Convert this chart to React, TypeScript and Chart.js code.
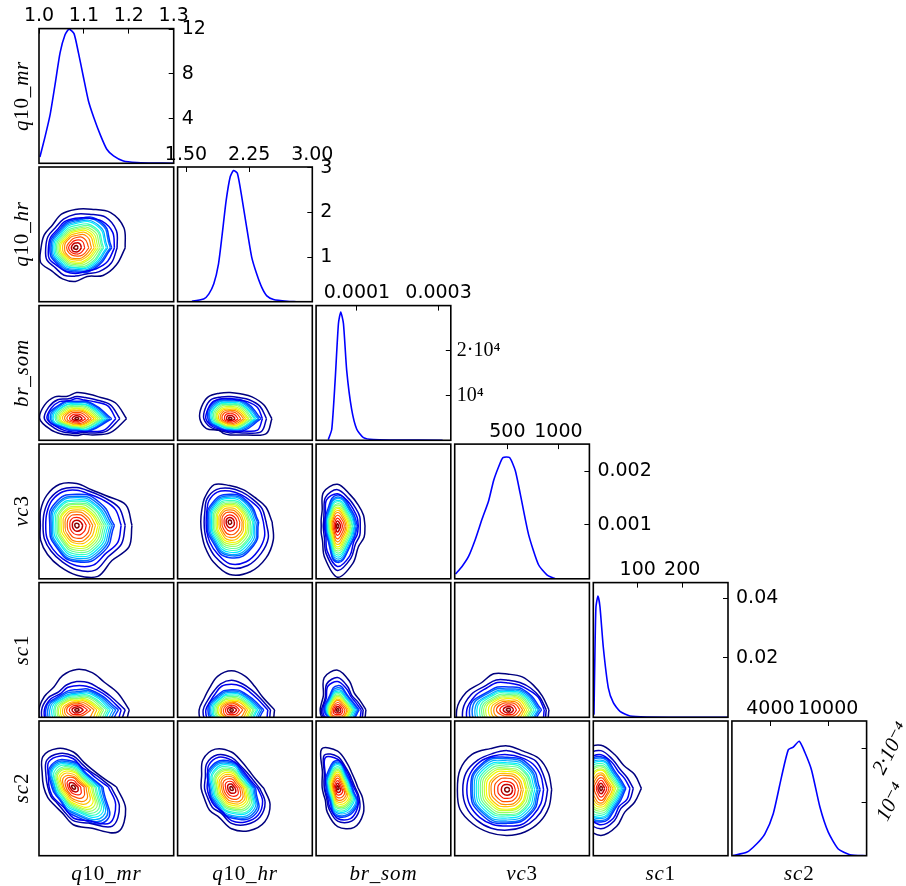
import React, { useEffect, useRef } from "react";
import { Chart, registerables } from "chart.js";

Chart.register(...registerables);

const paramNames = ["q10_mr", "q10_hr", "br_som", "vc3", "sc1", "sc2"];
const paramMin = [1.0, 1.4, 0, -17, 0, 0];
const paramMax = [1.3, 3.0, 0.00033, 1304, 303, 14000];
const densityMax = [12.05, 3.02, 30000, 0.0025, 0.0452, 0.000252];

const xTickValues = [[1.0, 1.1, 1.2, 1.3], [1.5, 2.25, 3.0], [0.0001, 0.0003], [500, 1000], [100, 200], [4000, 10000]];
const xTickLabels = [["1.0", "1.1", "1.2", "1.3"], ["1.50", "2.25", "3.00"], ["0.0001", "0.0003"], ["500", "1000"], ["100", "200"], ["4000", "10000"]];
const yTickValues = [[4, 8, 12], [1, 2, 3], [10000, 20000], [0.001, 0.002], [0.02, 0.04], [0.0001, 0.0002]];
const yTickLabels = [["4", "8", "12"], ["1", "2", "3"], ["10⁴", "2·10⁴"], ["0.001", "0.002"], ["0.02", "0.04"], ["10⁻⁴", "2·10⁻⁴"]];

const mrX = [1.002, 1.013, 1.025, 1.036, 1.047, 1.058, 1.067, 1.078, 1.088, 1.099, 1.11, 1.122, 1.137, 1.151, 1.166, 1.188, 1.218, 1.248, 1.3];
const mrY = [0.57, 2.3, 4.4, 7.1, 9.9, 11.5, 12, 11.6, 9.85, 7.7, 5.6, 4.1, 2.5, 1.26, 0.66, 0.2, 0.06, 0.03, 0];
const hrX = [1.57, 1.71, 1.77, 1.83, 1.886, 1.926, 1.977, 2.025, 2.064, 2.11, 2.163, 2.22, 2.28, 2.34, 2.4, 2.46, 2.54, 2.7, 2.81];
const hrY = [0.01, 0.06, 0.17, 0.4, 0.85, 1.45, 2.27, 2.8, 2.94, 2.88, 2.34, 1.67, 1, 0.62, 0.32, 0.13, 0.05, 0.01, 0];
const brX = [0.00003, 0.0000384, 0.0000466, 0.0000547, 0.0000604, 0.000067, 0.000075, 0.000087, 0.0000996, 0.000116, 0.00014, 0.00019, 0.00031];
const brY = [150, 2460, 13280, 25970, 28580, 25970, 15520, 6940, 2460, 600, 150, 70, 0];
const vcX = [-10, 55, 120, 185, 250, 316, 365, 414, 456, 521, 577, 626, 707, 805, 887, 968, 1278];
const vcY = [0.0000875, 0.00023, 0.00042, 0.00073, 0.0011, 0.00145, 0.001825, 0.00208, 0.00225, 0.00225, 0.00201, 0.001575, 0.000825, 0.00026, 0.000075, 0.000006, 0];
const sc1X = [1.5, 3.75, 6, 10.5, 15, 22.5, 33.75, 45, 60, 82.5, 120, 217, 303];
const sc1Y = [0.0009, 0.0224, 0.0371, 0.0407, 0.0371, 0.0235, 0.0099, 0.0049, 0.002, 0.00045, 0.0001, 0, 0];
const sc2X = [139, 1524, 2564, 3430, 4297, 5163, 5856, 6376, 7000, 7590, 8281, 9148, 10014, 11054, 12267, 14000];
const sc2Y = [0.0000006, 0.0000063, 0.000022, 0.000041, 0.0000785, 0.000148, 0.000198, 0.000203, 0.000214, 0.000193, 0.00016, 0.000091, 0.000044, 0.0000126, 0.0000019, 0];

const densityX = [mrX, hrX, brX, vcX, sc1X, sc2X];
const densityY = [mrY, hrY, brY, vcY, sc1Y, sc2Y];

const levelColors = ["#00007f", "#0000b8", "#0000f1", "#0034ff", "#0070ff", "#00acff", "#00e8ff", "#33ffc3", "#63ff94", "#94ff63", "#c3ff33", "#f4f802", "#ffc200", "#ff8900", "#ff5100", "#ff1a00", "#c40000", "#7f0000"];

// Contour rings: peak position and, per level, the distance to the line in evenly spaced directions (percent of panel).
const mrHrCenter = [27, 40];
const mrHrRadii = [
  [37,39,37,31,28.5,27,24,25,25.5,28,24.5,25,25,23,29,33],
  [31,33,32,27,25,23,21,22,22,23,21,22,21,21,25,29],
  [29,30,28,24,22,21,19,20,20,21,19,19,19,19,22,26],
  [27,27,21,18,19,18,18,21],[26,26,20,17,18,17,17,20],[24,24,19,16,17,16,16,19],[23,23,18,15,16,15,15,18],
  [21,21,16.5,14,15,14,14.5,17],[20,20,15,13,14,13,13.5,16],[18.5,18.5,14,12,13,12,12.5,14.5],[17,17,13,11,12,11,11.5,13],
  [15.5,15.5,12,10,11,10,10.5,12],[14,14,10.5,9,9.5,9,9,10.5],[12,12,9,8,8,8,8,9],[10,9.5,7.5,6,6.5,6,6,7.5],
  [7,7,5.5,4.5,5,4.5,4.5,5.5],[4.5,4.5,3.5,3,3,3,3,3.5],[2,2,1.5,1,1.5,1,1,1.5],
];
const mrBrCenter = [28, 16];
const mrBrRadii = [
  [37,31,23,20,19.5,18,23,26,27.5,21,16,13,12.5,12.5,17,27],
  [32,27,20,17,16.5,16,20,22.5,24,18,14,11.5,11,11,15,24],
  [29,25,18,15,15,14.5,18,20.5,22,16,12.5,10.5,10,10,13.5,22],
  [26,16,13,16,21,11,9,13],[24.5,15.5,12.5,15.5,19.5,10.5,8.5,12.5],[23,14.5,12,14.5,18.5,10,8,12],[21.5,13.5,11,13.5,17.5,9.5,7.5,11],
  [20,13,10.5,13,16,8.5,7,10.5],[19,12,9.5,12,15,8,6.5,9.5],[17.5,11,9,11,14,7.5,6,9],[16,10,8,10,13,7,6,8],
  [14.5,9,7.5,9,12,6.5,5,7.5],[13,8,6.5,8,10.5,5.5,4.5,6.5],[11,7,5.8,7,9,5,4,5.8],[9,5.7,4.7,5.7,7.3,4,3.3,4.7],
  [6.7,4.2,3.4,4.2,5.3,3,2.4,3.4],[4.2,2.6,2.2,2.6,3.4,1.8,1.5,2.2],[1.8,1.1,0.9,1.1,1.4,0.8,0.6,0.9],
];
const hrBrCenter = [39, 16];
const hrBrRadii = [
  [31,27,23,20,19.5,20.5,23,23,22.5,19,12,12,12,13,17,29],
  [27,24,20,17,16.5,17.5,20,20,19.5,16,12,10.5,10.5,11,15,25],
  [24,22,18,15,15,16,18,18,18,14.5,11,9.5,9.5,10,13,22],
  [23,17,14.5,17,16.5,10.5,9,13],[21.5,16,13.5,16,15.5,10,8.5,12],[20.5,15,13,15,15,9.5,8,11],[19,14,12,14,14,8.5,7.5,10.5],
  [18,13.5,11,13.5,13,8,7,10],[16.5,12.5,10.5,12.5,12,7.5,6.5,9],[15.5,11.5,10,11.5,11,7,6,8.5],[14,10.5,9,10.5,10,6.5,5.5,8],
  [13,9.5,8,9.5,9.5,6,5,7],[11.5,8.5,7,8.5,8.5,5,4.5,6.5],[10,7.4,6.2,7.4,7.2,4.5,3.8,5.5],[8,6,5,6,6,3.6,3.1,4.4],
  [5.9,4.4,3.7,4.4,4.3,2.7,2.3,3.2],[3.7,2.8,2.3,2.8,2.7,1.7,1.4,2],[1.6,1.2,1,1.2,1.1,0.7,0.6,0.9],
];
const mrVcCenter = [28, 39.7];
const mrVcRadii = [
  [41,39.5,31,28.6,31,33,31.5,29,27,29,30.6,33,37,41,37,42],
  [36,34,29,27,28,29,28,26,25,26,27,29,33,36,33,36],
  [33,31,27,25,26,27,26,24,23,24,25,27,30,32,30,33],
  [28,24,23,23,20,22,27,28],[26.5,22.5,21.5,21.5,19,21,26,26.5],[25,21,20.5,20.5,18,20,24.5,25],[23.5,20,19,19,17,18.5,23,23.5],
  [22,18.5,18,18,15.5,17.5,21.5,22],[20.5,17.5,16.5,16.5,14.5,16,20,20.5],[19,16,15.5,15.5,13.5,15,18.5,19],[17.5,14.5,14,14,12.5,14,17,17.5],
  [16,13.5,13,13,11.5,12.5,15.5,16],[14,12,11.5,11.5,10,11,13.5,14],[12,10,10,10,8.6,9.6,12,12],[10,8.3,8,8,7,7.8,9.6,10],
  [7.2,6,5.9,5.9,5.1,5.7,7,7.2],[4.5,3.8,3.7,3.7,3.2,3.6,4.4,4.5],[1.9,1.6,1.6,1.6,1.4,1.5,1.9,1.9],
];
const hrVcCenter = [38.7, 42.2];
const hrVcRadii = [
  [31.5,29,26,26,27,30,26,22.5,21.5,22.5,26,32,39,40,38,35],
  [27,26,24,24,25,26,24,20,19,20,23,28,34,35,33,31],
  [25,24,22,22,23,24,22,18.5,17.5,18.5,21,25,31,32,30,28],
  [21.5,20,20.5,19,16.5,19,26.5,25],[20.5,19,19.5,18,15.5,18,25,24],[19,18,18.5,17,14.5,17,24,22.5],[18,16.5,17.5,16,13.5,16,22.5,21],
  [17,15.5,16,15,13,15,21,19.5],[15.5,14.5,15,14,12,14,19.5,18.5],[14.5,13.5,14,13,11,13,18,17],[13.5,12.5,13,12,10,12,16.5,15.5],
  [12,11.5,12,11,9,11,15,14.5],[10.5,10,10.5,9.5,8,9.5,13.5,12.5],[9.3,8.6,9,8.3,7,8.3,11.5,11],[7.5,7,7.3,6.8,5.7,6.8,9.4,8.8],
  [5.5,5.1,5.3,4.9,4.2,4.9,6.8,6.5],[3.5,3.2,3.4,3.1,2.6,3.1,4.3,4.1],[1.5,1.4,1.4,1.3,1.1,1.3,1.8,1.7],
];
const brVcCenter = [15.8, 39.2];
const brVcRadii = [
  [20.5,21,22,25,31,27,16,13,12,13,15.6,25,38,30,22,21.5],
  [17,18,19,22,27,23,14,11,10.5,11,13.5,22,33,26,19,18],
  [15.5,16,17,20,24,21,12.5,10,9.5,10,12,20,30,24,17,16],
  [15,15.5,23,12,9,11,27,16],[14,14.5,21.5,11,8.4,10.5,26,15.5],[13,14,20.5,10.5,8,10,24.5,14.5],[12.5,13,19,10,7.4,9.3,23,13.5],
  [11.5,12,18,9.3,7,8.7,21.5,13],[11,11.3,16.5,8.6,6.5,8,20,12],[10,10.5,15.5,8,6,7.5,18.5,11],[9.2,9.7,14,7.4,5.5,6.9,17,10],
  [8.4,8.8,13,6.7,5,6.3,15.5,9.2],[7.4,7.8,11.5,6,4.4,5.6,13.7,8.1],[6.4,6.7,10,5.1,3.8,4.8,11.8,7],[5.2,5.5,8,4.2,3.1,3.9,9.6,5.7],
  [3.8,4,5.9,3,2.3,2.9,7,4.2],[2.4,2.5,3.7,1.9,1.4,1.8,4.4,2.6],[1,1,1.6,0.8,0.6,0.8,1.9,1.1],
];
const mrSc1Center = [28, 5.5];
const mrSc1Radii = [
  [39,33,29,30,30,27.5,24,26,28,28,24,20,16,20,30,37],
  [36,27,23,22,21,20,19,23,26,26,22,18,14,18,28,33],
  [33,25,21,19,18,18,17,21,24,24,20,16,13,16,26,31],
  [31,19,15,16,23,20,12,26],[29,18,13.5,15,21.5,19,11,24],[27,17,12.5,14,20,18,10,23],[25,16,11.5,13,18.5,16,10,21],
  [23.5,14.5,10.5,12.5,17,15,9,20],[22,13.5,9.5,11.5,16,14,8.5,18.5],[20,12.5,8.5,10.5,14.5,13,8,17],[18.5,11,8,9.5,13.5,12,7.5,16],
  [17,10,7,9,12,11,7,14.5],[15,9,6,7.5,10.5,9.5,6.5,13],[13,7.5,5.5,6.5,9,8,6,10.5],[10.5,6,4.5,5.5,7.5,6,4.5,6],
  [8,4.5,3.4,4,5.5,4.5,3.4,4.5],[5,2.8,2.2,2.5,3.5,2.8,2.2,2.8],[2,1.2,0.9,1,1.4,1.2,0.9,1.2],
];
const hrSc1Center = [40, 5.5];
const hrSc1Radii = [
  [32,25,24.5,27,29,27,23,22,24,24,21,18,15,18,26,32],
  [29,23,21,21,22,21,19,19,21,21,19,16,14,16,24,29],
  [27,21,19,19,19,19,17,17,19,19,17,15,13,15,22,27],
  [24,16,15,15,17.5,15,12,20],[22.5,15,14,14,16.5,14,11,19],[21,14,13,13,15.5,13,10,18],[19.5,13.5,12,12,14.5,12,10,16.5],
  [18.5,12.5,11,11.5,13.5,11.5,9,15.5],[17,11.5,10,10.5,12.5,10.5,8.5,14.5],[16,10.5,9,9.5,11.5,10,8,13.5],[14.5,10,8,9,10.5,9,7.5,12.5],
  [13.5,9,7,8,10,8.5,7,11.5],[12,8,6,7,8.5,7.5,6.5,10],[10.5,6.5,5.5,6,7.5,7,6,8.5],[8.5,5.5,4.5,5,6,6,4.5,6],
  [6,4,3.4,3.7,4.5,4.5,3.4,4.5],[4,2.5,2.2,2.3,3,2.8,2.2,2.8],[1.6,1.1,0.9,1,1.2,1.2,0.9,1.2],
];
const brSc1Center = [16, 5.5];
const brSc1Radii = [
  [21,18,17.5,23,29.5,26,15,13,13,13,11,14,15,16,17,21],
  [19,16,15,19,24,21,13,11.5,12,12,10,13,14,15,16,19],
  [17.5,14.5,14,17,21,19,12,11,11,11,9.5,12,13,14,15,17.5],
  [16,12.5,18,10.5,10,9,12,13.5],[15,12,16.5,10,9.5,8.5,11,13],[14,11,15,9.5,9,8.5,10,12],[13,10.5,14,9,8.5,8,10,11],
  [12,10,13,8.5,8,8,9,10],[11.5,9,12,8,7.5,8,8.5,10],[10.5,8.5,11,7.5,7,8,8,9],[9.5,8,10,7,6.5,8,7.5,8.5],
  [9,7.5,9,6.5,6,7.5,7,8],[8,6.5,8,5.5,5.5,7,6.5,7],[7,5.5,7,5,5,6.5,6,6.5],[5.5,4.5,5.5,4,4,5.5,4.5,5.5],
  [4,3.3,4,3,3,4,3.4,4],[2.5,2.2,2.6,1.9,1.9,2.6,2.2,2.6],[1.1,0.9,1.1,0.8,0.8,1.1,0.9,1.1],
];
const vcSc1Center = [40, 5.5];
const vcSc1Radii = [
  [30,27,26,26.5,26.5,29,28.5,34,38.5,38,30,20,16,18,24,30],
  [28,25,23,22,22,24,25,30,34,34,28,18,14,16,22,28],
  [26.5,24,21,20,20,22,23,27,31,31,26,16,13,15,21,26.5],
  [24.5,19,17,20,29,24,12,19],[23,18,15.5,19,27,22,11,18],[22,17,14.5,17.5,25,21,10,17],[20.5,16,13.5,16.5,23.5,19,10,16],
  [19,15,12.5,15.5,21.5,18,9,15],[17.5,14,11.5,14,20,16,8.5,14],[16.5,13,10.5,13,18.5,15,8,13],[15,12,9.5,12,17,14,7.5,12],
  [13.5,11,8.5,11,15,12,7,11],[12,9.5,7,9.5,13,10.5,6.5,9.5],[10.5,8,6,8,11,9,6,8],[8.5,6.5,5,6.5,9,6,4.5,6],
  [6,4.8,3.6,4.8,6.5,4.5,3.4,4.5],[3.8,3,2.3,3,4,2.8,2.2,2.8],[1.6,1.3,1,1.3,1.7,1.2,0.9,1.2],
];
const mrSc2Center = [25.5, 51];
const mrSc2Radii = [
  [32,21.7,19,20,26,31,32,25,22,20.5,19.5,21,28,33,47,42],
  [28,20,17,18,23,27,28,22,19,18,17,19,25,29,41,37],
  [26,18,16,16,21,25,26,20,18,17,16,17,23,27,38,34],
  [22,14,19,23,16,14,21,35],[21,13.5,18,22,15,13.5,19.5,33],[19.5,13,17,21,14,13,18.5,31],[18.5,12,16,20,13.5,12,17,29],
  [17,11,15,18.5,12.5,11,16,27],[16,10,14,17,12,10.5,15,25],[14.5,9.5,13,16,11,10,14,23],[13.5,9,12,15,10,9,13,21],
  [12,8,11,13.5,9,8,12,19],[11,7,9.5,12,8,7,10.5,16],[9.5,6,8,10,7,6,9,13.5],[8,5,7,8,5.5,5,7,10.5],
  [5.5,3.6,5,6,4,3.6,5,7.5],[3.5,2.3,3,4,2.6,2.3,3.2,4.5],[1.5,1,1.3,1.6,1.1,1,1.4,2],
];
const hrSc2Center = [40, 50];
const hrSc2Radii = [
  [24,19,18.5,21,27,31.5,30,24,22.5,21.5,23,23.5,30,34,35,31],
  [21,17,16.5,18,23,27,26,21,20,19,20,20,26,29,30,27],
  [19.5,15.5,15,17,21,25,24,19,18,17.5,18,18.5,24,27,28,25],
  [18,14,20,22,16.5,17,22,26],[17,13,19,21,16,16,21,24.5],[16,12.5,18,20,15,15,20,23],[15,11.5,17,18.5,14,14,18.5,21.5],
  [14,11,15.5,17.5,13,13.5,17.5,20.5],[13,10,14.5,16,12,12.5,16,19],[12,9.5,13.5,15,11,11.5,15,17.5],[11,8.5,12.5,14,10.5,10.5,14,16],
  [10,8,11.5,12.5,9.5,9.5,12.5,14.5],[9,7,10,11,8.5,8.5,11,13],[7.7,6,8.6,9.6,7.2,7.4,9.6,11.2],[6.2,4.8,7,7.8,5.9,6,7.8,9],
  [4.6,3.5,5.1,5.7,4.3,4.4,5.7,6.6],[2.9,2.2,3.2,3.6,2.7,2.8,3.6,4.2],[1.2,0.9,1.4,1.5,1.1,1.2,1.5,1.8],
];
const brSc2Center = [16, 50.6];
const brSc2Radii = [
  [15,14,15,19,27,31,16,12.5,11.5,11.5,13,20,29,32,27,20],
  [13,12,13,16,23,26,14,11,10,10,11.5,17,25,27,23,17],
  [12,11,12,15,21,24,13,10,9.5,9.5,10.5,15.5,23,25,21,16],
  [11,11,20,12,8.5,9.6,21.5,20],[10.5,10.5,19,11,8,9,20.5,19],[10,10,18,10.5,7.6,8.6,19,18],[9.3,9.3,17,10,7.1,8,18,16.5],
  [8.7,8.7,15.5,9.3,6.7,7.5,17,15.5],[8,8,14.5,8.6,6.2,7,15.5,14.5],[7.5,7.5,13.5,8,5.8,6.5,14.5,13.5],[6.9,6.9,12.5,7.4,5.3,6,13.5,12.5],
  [6.3,6.3,11.5,6.7,4.8,5.5,12,11.5],[5.6,5.6,10,5.9,4.3,4.8,10.7,10],[4.8,4.8,8.6,5.1,3.7,4.2,9.3,8.6],[3.9,3.9,7,4.2,3,3.4,7.5,7],
  [2.9,2.9,5.1,3,2.2,2.5,5.5,5.1],[1.8,1.8,3.2,1.9,1.4,1.6,3.5,3.2],[0.8,0.8,1.4,0.8,0.6,0.7,1.5,1.4],
];
const vcSc2Center = [39, 49];
const vcSc2Radii = [
  [33,33,33,31,32.5,33,37,38,37,38,36,34.5,34,34,34,33.5],
  [30,29,30,28,29,29,31,33,33,33,32,31,30,30,30,30],
  [27,27,27,26,26,27,29,30,30,30,29,28,27,28,27,27],
  [24.5,24.5,24,27,27,26.5,25,25],[23,23,23,26,26,25,24,24],[22,22,21.5,24.5,24.5,24,22.5,22.5],[20.5,20.5,20,23,23,22.5,21,21],
  [19,19,19,21.5,21.5,21,19.5,19.5],[18,18,17.5,20,20,19.5,18.5,18.5],[16.5,16.5,16,18.5,18.5,18,17,17],[15,15,15,17,17,16.5,15.5,15.5],
  [14,14,13.5,15.5,15.5,15,14.5,14.5],[12,12,12,13.5,13.5,13.5,12.5,12.5],[10.5,10.5,10.5,12,12,11.5,11,11],[8.5,8.5,8.5,9.5,9.5,9.4,8.8,8.8],
  [6,6,6,7,7,6.8,6.5,6.5],[4,4,3.9,4.4,4.4,4.3,4.1,4.1],[1.7,1.7,1.6,1.9,1.9,1.8,1.7,1.7],
];
const sc1Sc2Center = [5.7, 50];
const sc1Sc2Radii = [
  [30,27,24,27,32,31,26,14,12,14,26,31,35,30.5,25,27],
  [24,21,20,23,28,27,23,13,11,13,23,27,30,26,21,23],
  [21.5,19,18,21,25,24,21,12,10,12,21,24,27,24,19,21],
  [18.5,16,23.5,19,10,20,25,17.5],[17.5,15,22.5,18,10,19,24,16.5],[16.5,14,21,17,9.5,18,22.5,15.5],[15.5,13.5,20,16,9,17,21.5,14.5],
  [14.5,12.5,18.5,15,9,16,20,13.5],[13.5,11.5,17,13.5,8.5,14.5,18.5,12.5],[12.5,10.5,16,12.5,8,13,17,11.5],[11,9.5,14.5,11,7.5,12,15.5,10.5],
  [10,9,13.5,10,7,10.5,14,9.5],[9,7.5,11.5,8.5,6.5,9,12.5,8.5],[7.5,6.5,10,7,6,7.5,11,7],[6,5.5,8,5.5,5,5.5,9,6],
  [4.5,4,6,3.8,3.5,3.8,6.5,4.5],[2.8,2.5,3.8,2.5,2.2,2.5,4,2.8],[1.2,1.1,1.6,1,0.9,1,1.7,1.2],
];

const contourPanels: [number, number, number[], number[][]][] = [
  [0, 1, mrHrCenter, mrHrRadii],
  [0, 2, mrBrCenter, mrBrRadii],
  [1, 2, hrBrCenter, hrBrRadii],
  [0, 3, mrVcCenter, mrVcRadii],
  [1, 3, hrVcCenter, hrVcRadii],
  [2, 3, brVcCenter, brVcRadii],
  [0, 4, mrSc1Center, mrSc1Radii],
  [1, 4, hrSc1Center, hrSc1Radii],
  [2, 4, brSc1Center, brSc1Radii],
  [3, 4, vcSc1Center, vcSc1Radii],
  [0, 5, mrSc2Center, mrSc2Radii],
  [1, 5, hrSc2Center, hrSc2Radii],
  [2, 5, brSc2Center, brSc2Radii],
  [3, 5, vcSc2Center, vcSc2Radii],
  [4, 5, sc1Sc2Center, sc1Sc2Radii],
];

const PANEL_X = [39, 177.6, 316.1, 454.7, 593.3, 731.9];
const PANEL_Y = [28.6, 167, 305.6, 444.1, 582.6, 721];
const PANEL_SIZE = 134.7;
const SANS = "'DejaVu Sans', sans-serif";
const SERIF = "'Liberation Serif', 'DejaVu Serif', serif";

const frame = {
  id: "frame",
  afterDatasetsDraw(chart: any) {
    const { left, top, right, bottom } = chart.chartArea;
    const ctx = chart.ctx;
    ctx.save();
    ctx.strokeStyle = "#000";
    ctx.lineWidth = 1.6;
    ctx.strokeRect(left, top, right - left, bottom - top);
    ctx.restore();
  },
};

function ringPoints(col: number, row: number, center: number[], radii: number[]) {
  const n = radii.length;
  const pts = radii.map((r, i) => {
    const a = (2 * Math.PI * i) / n;
    const px = center[0] + r * Math.cos(a);
    const py = center[1] + r * Math.sin(a);
    return {
      x: paramMin[col] + (px / 100) * (paramMax[col] - paramMin[col]),
      y: paramMin[row] + (py / 100) * (paramMax[row] - paramMin[row]),
    };
  });
  pts.push(pts[0]);
  return pts;
}

function noMargins(scale: any) {
  scale.paddingLeft = 0;
  scale.paddingRight = 0;
  scale.paddingTop = 0;
  scale.paddingBottom = 0;
}

function Panel({ col, row, center, radii }: { col: number; row: number; center?: number[]; radii?: number[][] }) {
  const ref = useRef<HTMLCanvasElement>(null);
  const diag = col === row;
  const M = diag ? { l: 24, t: 26, r: col === 5 ? 39 : 66, b: 8 } : { l: 2, t: 2, r: 2, b: 2 };
  const px = PANEL_X[col];
  const py = PANEL_Y[row];
  const cl = Math.floor(px) - M.l;
  const ct = Math.floor(py) - M.t;
  const padL = px - cl;
  const padT = py - ct;
  const cw = Math.ceil(padL + PANEL_SIZE + M.r);
  const ch = Math.ceil(padT + PANEL_SIZE + M.b);

  useEffect(() => {
    if (!ref.current) return;
    const datasets: any[] = diag
      ? [
          {
            data: densityX[col].map((x, i) => ({ x, y: densityY[col][i] })),
            showLine: true,
            pointRadius: 0,
            borderColor: "#0000ff",
            borderWidth: 1.6,
            tension: 0.2,
          },
        ]
      : (radii as number[][]).map((r, i) => ({
          data: ringPoints(col, row, center as number[], r),
          showLine: true,
          pointRadius: 0,
          borderColor: levelColors[i],
          borderWidth: i < 5 || i > 15 ? 1.5 : 1.2,
          tension: r.length > 8 ? 0.35 : 0.55,
        }));
    const chart = new Chart(ref.current, {
      type: "scatter",
      data: { datasets },
      options: {
        animation: false,
        responsive: false,
        devicePixelRatio: 1,
        layout: {
          padding: diag
            ? { left: padL, top: 0, right: cw - padL - PANEL_SIZE - M.r, bottom: ch - padT - PANEL_SIZE }
            : { left: padL, top: padT, right: cw - padL - PANEL_SIZE, bottom: ch - padT - PANEL_SIZE },
        },
        plugins: { legend: { display: false }, tooltip: { enabled: false } },
        scales: {
          x: {
            type: "linear",
            display: diag,
            position: "top",
            bounds: "data",
            min: paramMin[col],
            max: paramMax[col],
            afterBuildTicks: (s: any) => {
              if (diag) s.ticks = xTickValues[col].map((value) => ({ value }));
            },
            afterFit: (s: any) => {
              if (diag) {
                s.height = padT;
                noMargins(s);
              }
            },
            grid: { drawOnChartArea: false, tickLength: -5, tickColor: "#000", tickWidth: 1 },
            border: { display: false },
            ticks: {
              autoSkip: false,
              maxRotation: 0,
              minRotation: 0,
              padding: 6,
              color: "#000",
              font: { family: SANS, size: 19 },
              callback: (_: any, i: number) => (diag ? xTickLabels[col][i] : ""),
            },
          },
          y: {
            type: "linear",
            display: diag,
            position: "right",
            bounds: "data",
            min: diag ? 0 : paramMin[row],
            max: diag ? densityMax[col] : paramMax[row],
            afterBuildTicks: (s: any) => {
              if (diag) s.ticks = yTickValues[col].map((value) => ({ value }));
            },
            afterFit: (s: any) => {
              if (diag) {
                s.width = M.r;
                noMargins(s);
              }
            },
            grid: { drawOnChartArea: false, tickLength: -5, tickColor: "#000", tickWidth: 1 },
            border: { display: false },
            ticks: {
              autoSkip: false,
              padding: col === 5 ? 2 : col === 2 ? 11 : 13,
              color: "#000",
              crossAlign: col === 5 ? "center" : "near",
              minRotation: col === 5 ? 63 : 0,
              maxRotation: col === 5 ? 63 : 0,
              font:
                col === 2
                  ? { family: SERIF, size: 20 }
                  : col === 5
                  ? { family: SERIF, size: 21, style: "italic" }
                  : { family: SANS, size: 19 },
              callback: (_: any, i: number) => (diag ? yTickLabels[col][i] : ""),
            },
          },
        },
      } as any,
      plugins: [frame],
    });
    return () => chart.destroy();
  }, []);

  return (
    <canvas
      ref={ref}
      width={cw}
      height={ch}
      style={{ position: "absolute", left: cl, top: ct, width: cw, height: ch, display: "block" }}
    />
  );
}

function MathName({ text }: { text: string }) {
  return (
    <>
      {text.split(/([a-z]+)/).map((part, i) =>
        /[a-z]/.test(part) ? <i key={i}>{part}</i> : <span key={i}>{part}</span>
      )}
    </>
  );
}

const labelStyle: React.CSSProperties = {
  position: "absolute",
  fontFamily: SERIF,
  fontSize: 21,
  letterSpacing: 0.8,
  whiteSpace: "nowrap",
  color: "#000",
  lineHeight: "24px",
};

export default function App() {
  useEffect(() => {
    document.body.style.margin = "0";
    document.body.style.background = "#fff";
  }, []);
  return (
    <div style={{ position: "absolute", left: 0, top: 0, width: 906, height: 886, overflow: "hidden", background: "#fff" }}>
      {contourPanels.map(([c, r, ctr, rad]) => (
        <Panel key={`${c}-${r}`} col={c} row={r} center={ctr} radii={rad} />
      ))}
      {paramNames.map((_, i) => (
        <Panel key={`d${i}`} col={i} row={i} />
      ))}
      {paramNames.map((name, i) => (
        <div
          key={`c${i}`}
          style={{ ...labelStyle, left: PANEL_X[i] + PANEL_SIZE / 2, top: 873, transform: "translate(-50%,-50%)" }}
        >
          <MathName text={name} />
        </div>
      ))}
      {paramNames.map((name, i) => (
        <div
          key={`r${i}`}
          style={{ ...labelStyle, left: 21, top: PANEL_Y[i] + PANEL_SIZE / 2, transform: "translate(-50%,-50%) rotate(-90deg)" }}
        >
          <MathName text={name} />
        </div>
      ))}
    </div>
  );
}
